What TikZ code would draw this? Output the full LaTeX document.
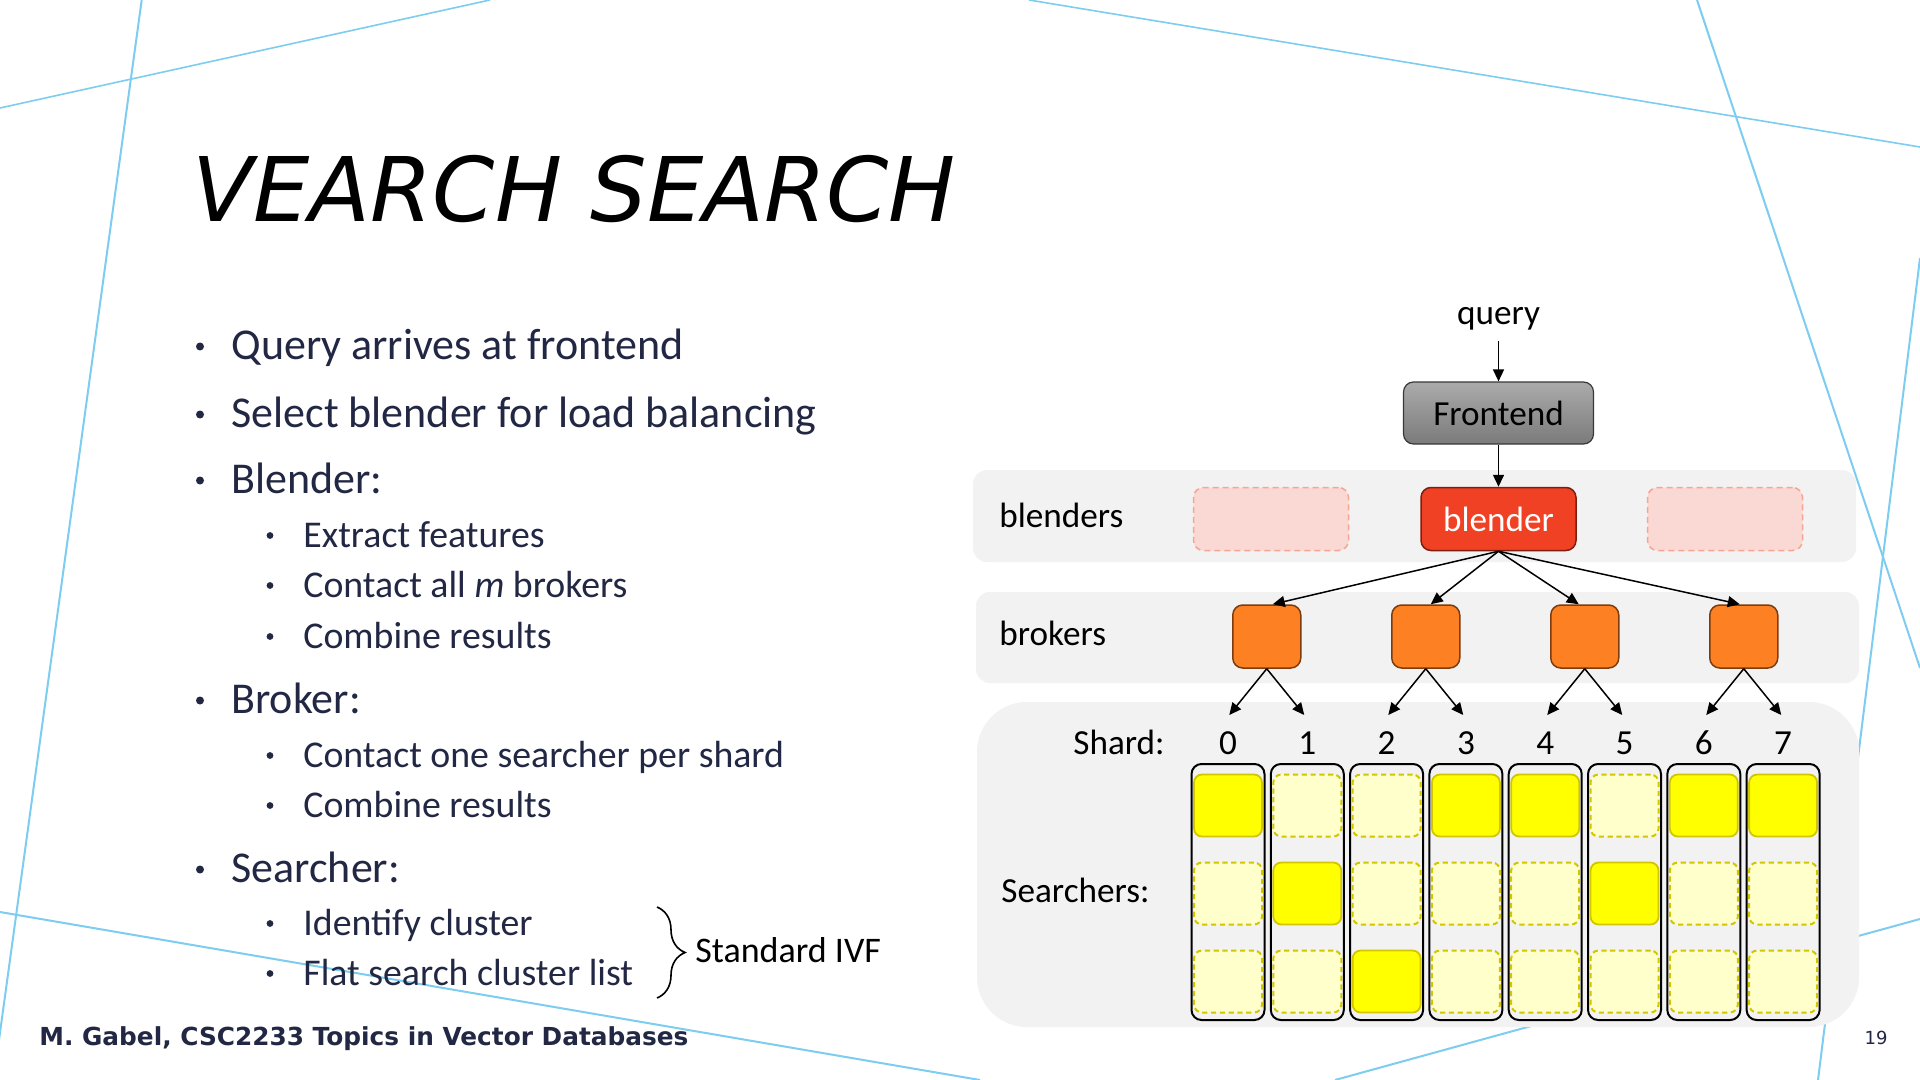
\documentclass[tikz,border=0pt]{standalone}
\usepackage{fontspec}
\setmainfont{Carlito}
\newfontfamily\dejavu{DejaVu Sans}
\usetikzlibrary{arrows.meta,calc,decorations.pathreplacing}
\definecolor{navy}{RGB}{34,39,68}
\definecolor{decoblue}{RGB}{125,205,240}
\definecolor{bandgray}{RGB}{242,242,242}
\definecolor{blendfill}{RGB}{240,65,36}
\definecolor{blenddraw}{RGB}{125,30,15}
\definecolor{ghostfill}{RGB}{250,216,211}
\definecolor{ghostdraw}{RGB}{245,165,145}
\definecolor{brokfill}{RGB}{253,128,34}
\definecolor{brokdraw}{RGB}{125,60,15}
\definecolor{cellonc}{RGB}{255,255,0}
\definecolor{celloffc}{RGB}{255,255,204}
\definecolor{celldraw}{RGB}{210,198,0}
\begin{document}
\begin{tikzpicture}[x=0.5pt,y=-0.5pt,
  l1/.style={font=\fontsize{22}{26}\selectfont, text=navy, anchor=base west, inner sep=0pt},
  l2/.style={font=\fontsize{18.9}{22}\selectfont, text=navy, anchor=base west, inner sep=0pt},
  dot1/.style={circle, fill=navy, minimum size=4pt, inner sep=0pt},
  dot2/.style={circle, fill=navy, minimum size=3.4pt, inner sep=0pt},
  decoline/.style={draw=decoblue, line width=1pt},
  bandbox/.style={fill=bandgray, draw=none, inner sep=0pt},
  lbl/.style={font=\fontsize{17.6}{21}\selectfont, inner sep=0pt},
  arr/.style={-{Triangle[length=6pt,width=5.5pt]}, line width=0.75pt},
  febox/.style={rectangle, rounded corners=5pt, minimum width=95pt, minimum height=31pt,
     top color=black!33, bottom color=black!52, draw=black!78, line width=0.6pt,
     font=\fontsize{17.6}{21}\selectfont},
  blendbox/.style={rectangle, rounded corners=5pt, minimum width=77.5pt, minimum height=31.5pt,
     fill=blendfill, draw=blenddraw, line width=0.75pt, text=white, font=\fontsize{17.6}{21}\selectfont},
  ghostbox/.style={rectangle, rounded corners=5pt, minimum width=77.5pt, minimum height=31.5pt,
     fill=ghostfill, draw=ghostdraw, dash pattern=on 3pt off 2pt, line width=0.75pt},
  brokbox/.style={rectangle, rounded corners=5pt, minimum width=34pt, minimum height=31.5pt,
     fill=brokfill, draw=brokdraw, line width=0.75pt},
  shardcol/.style={rectangle, rounded corners=5pt, minimum width=36.5pt, minimum height=128pt,
     draw=black, line width=1pt, inner sep=0pt},
  cellon/.style={rectangle, rounded corners=4pt, minimum width=34pt, minimum height=31pt,
     fill=cellonc, draw=celldraw, line width=0.9pt, inner sep=0pt},
  celloff/.style={rectangle, rounded corners=4pt, minimum width=34pt, minimum height=31pt,
     fill=celloffc, draw=celldraw, line width=1pt, dash pattern=on 2.6pt off 1.8pt, inner sep=0pt}
]
\useasboundingbox (0,0) rectangle (1920,1080);
\fill[white] (0,0) rectangle (1920,1080);
\clip (0,0) rectangle (1920,1080);

% decorative lines
\draw[decoline, line width=0.8pt] (0,108) -- (490,0);
\draw[decoline] (141.7,0) -- (-6.5,1080);
\draw[decoline, line width=0.8pt] (1029,0) -- (1920,147);
\draw[decoline] (1697,0) -- (1920,668);
\draw[decoline] (1920,258) -- (1818,1080);
\draw[decoline] (1920,919) -- (1335,1080);
\draw[decoline] (0,912) -- (980,1080);

% title
\node[anchor=base west, inner sep=0pt, font=\dejavu\itshape\fontsize{44.6}{50}\selectfont] (title) at (192,222) {VEARCH SEARCH};

% bullet text
\node[l1] (t1) at (231,359) {Query arrives at frontend};
\node[l1] (t2) at (231,427) {Select blender for load balancing};
\node[l1] (t3) at (231,493) {Blender:};
\node[l2] (t4) at (303,547) {Extract features};
\node[l2] (t5) at (303,597) {Contact all \textit{m} brokers};
\node[l2] (t6) at (303,648) {Combine results};
\node[l1] (t7) at (231,713) {Broker:};
\node[l2] (t8) at (303,767) {Contact one searcher per shard};
\node[l2] (t9) at (303,817) {Combine results};
\node[l1] (t10) at (231,882) {Searcher:};
\node[l2] (t11) at (303,935) {Identify cluster};
\node[l2] (t12) at (303,985) {Flat search cluster list};

\node[dot1] (bu1) at (200,346.5) {};
\node[dot1] (bu2) at (200,414.5) {};
\node[dot1] (bu3) at (200,480.5) {};
\node[dot2] (bu4) at (270,535.5) {};
\node[dot2] (bu5) at (270,585.5) {};
\node[dot2] (bu6) at (270,636.5) {};
\node[dot1] (bu7) at (200,700.5) {};
\node[dot2] (bu8) at (270,755.5) {};
\node[dot2] (bu9) at (270,805.5) {};
\node[dot1] (bu10) at (200,869.5) {};
\node[dot2] (bu11) at (270,923.5) {};
\node[dot2] (bu12) at (270,973.5) {};

% brace
\coordinate (brtop) at (657,907);
\coordinate (brbot) at (657,998);
\draw[decorate, decoration={brace, amplitude=14pt}, line width=0.8pt] (brtop) -- (brbot);
\node[anchor=base west, inner sep=0pt, font=\fontsize{18}{22}\selectfont] (ivf) at (695,962) {Standard IVF};

% footer
\node[anchor=base west, inner sep=0pt, text=navy, font=\dejavu\bfseries\fontsize{12.4}{14}\selectfont] (foot) at (39,1045) {M. Gabel, CSC2233 Topics in Vector Databases};
\node[anchor=base, inner sep=0pt, text=navy, font=\dejavu\fontsize{9}{11}\selectfont] (pnum) at (1876,1044) {19};

% bands
\node[bandbox, rounded corners=7pt, minimum width=441.5pt, minimum height=46pt] (bandA) at (1414.5,516) {};
\node[bandbox, rounded corners=7pt, minimum width=441.5pt, minimum height=45.5pt] (bandB) at (1417.5,637.5) {};
\node[bandbox, rounded corners=25pt, minimum width=441pt, minimum height=162.5pt] (bandC) at (1418,864.5) {};

\node[lbl, anchor=base west] (lblend) at (999,527) {blenders};
\node[lbl, anchor=base west] (lbrok) at (999,645) {brokers};
\node[lbl, anchor=base east] (lshard) at (1165,754) {Shard:};
\node[lbl, anchor=base west] (lsearch) at (1001,902) {Searchers:};

% query / frontend / blenders
\node[lbl, anchor=base, inner ysep=5pt] (query) at (1498.5,325) {query};
\node[febox] (fe) at (1498.5,413) {Frontend};
\node[ghostbox] (g1) at (1271,519) {};
\node[blendbox] (bl) at (1498.5,519) {blender};
\node[ghostbox] (g2) at (1725,519) {};

\draw[arr] (query) -- (fe);
\draw[arr] (fe) -- (bl);

% brokers
\node[brokbox] (br1) at (1266.75,636.5) {};
\node[brokbox] (br2) at (1425.75,636.5) {};
\node[brokbox] (br3) at (1584.75,636.5) {};
\node[brokbox] (br4) at (1743.75,636.5) {};

\draw[arr] (bl.south) -- ($(br1.north)+(6,0)$);
\draw[arr] (bl.south) -- ($(br2.north)+(5,0)$);
\draw[arr] (bl.south) -- ($(br3.north)+(-6,0)$);
\draw[arr] (bl.south) -- ($(br4.north)+(-4,0)$);

% shard arrow tips
\foreach \k/\c in {1/1266.75,2/1425.75,3/1584.75,4/1743.75} {
  \pgfmathtruncatemacro\ia{2*(\k-1)}
  \pgfmathtruncatemacro\ib{2*(\k-1)+1}
  \coordinate (tip\ia) at (\c-37.5,715);
  \coordinate (tip\ib) at (\c+37.5,715);
  \draw[arr] (br\k.south) -- (tip\ia);
  \draw[arr] (br\k.south) -- (tip\ib);
}

% shard columns and digits
\foreach \i in {0,...,7} {
  \pgfmathsetmacro\cx{1228+79.3*\i}
  \node[shardcol] (col\i) at (\cx,892) {};
  \node[lbl, anchor=base] (d\i) at (\cx,754) {\i};
}
% searcher cells
\foreach \i/\r in {1/1,2/1,5/1,0/2,2/2,3/2,4/2,6/2,7/2,0/3,1/3,3/3,4/3,5/3,6/3,7/3} {
  \pgfmathsetmacro\cx{1228+79.3*\i}
  \pgfmathsetmacro\cy{805.5+88*(\r-1)}
  \node[celloff] (cell\i-\r) at (\cx,\cy) {};
}
\foreach \i/\r in {0/1,3/1,4/1,6/1,7/1,1/2,5/2,2/3} {
  \pgfmathsetmacro\cx{1228+79.3*\i}
  \pgfmathsetmacro\cy{805.5+88*(\r-1)}
  \node[cellon] (cell\i-\r) at (\cx,\cy) {};
}
\end{tikzpicture}
\end{document}
